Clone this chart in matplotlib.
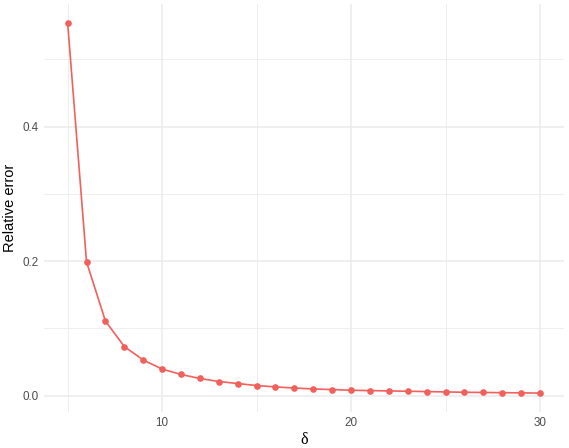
import matplotlib.pyplot as plt

plt.rcParams['font.family'] = ['Liberation Sans', 'DejaVu Sans']

# values
delta = [5, 6, 7, 8, 9, 10, 11, 12, 13, 14, 15, 16, 17, 18, 19, 20,
         21, 22, 23, 24, 25, 26, 27, 28, 29, 30]
rel_error = [0.5547, 0.199, 0.111, 0.073, 0.053, 0.0395, 0.0315, 0.0255,
             0.021, 0.018, 0.015, 0.013, 0.0113, 0.0099, 0.009, 0.008,
             0.0075, 0.007, 0.0065, 0.006, 0.0055, 0.005, 0.0047, 0.0044,
             0.0041, 0.0038]
x_ticks = [10, 20, 30]
y_ticks = [0.0, 0.2, 0.4]

fig = plt.figure(figsize=(5.69, 4.48), dpi=100)
ax = fig.add_axes([44 / 569, 1 - 411.6 / 448, (563.6 - 44) / 569, (411.6 - 4) / 448])

ax.plot(delta, rel_error, color='#F2605B', lw=1.2, marker='o', ms=4.8,
        markeredgewidth=0, zorder=3)

xpad = (max(delta) - min(delta)) * 0.05
ypad = (max(rel_error) - min(rel_error)) * 0.05
ax.set_xlim(min(delta) - xpad, max(delta) + xpad)
ax.set_ylim(min(rel_error) - ypad, max(rel_error) + ypad)

ax.set_xticks(x_ticks)
ax.set_yticks(y_ticks)
ax.set_yticklabels(['0.0', '0.2', '0.4'])
ax.set_xticks([5, 15, 25], minor=True)
ax.set_yticks([0.1, 0.3, 0.5], minor=True)

ax.grid(True, which='major', color='#EBEBEB', lw=1.1)
ax.grid(True, which='minor', color='#EBEBEB', lw=0.6)
ax.set_axisbelow(True)
for s in ax.spines.values():
    s.set_visible(False)
ax.tick_params(which='both', length=0, labelsize=8.4, labelcolor='#4D4D4D', pad=4)

ax.set_xlabel('δ', fontsize=11.5, labelpad=2, family=['Liberation Serif', 'DejaVu Serif'])
ax.set_ylabel('Relative error', fontsize=10.5, labelpad=4)

fig.savefig('out.png', dpi=100)
